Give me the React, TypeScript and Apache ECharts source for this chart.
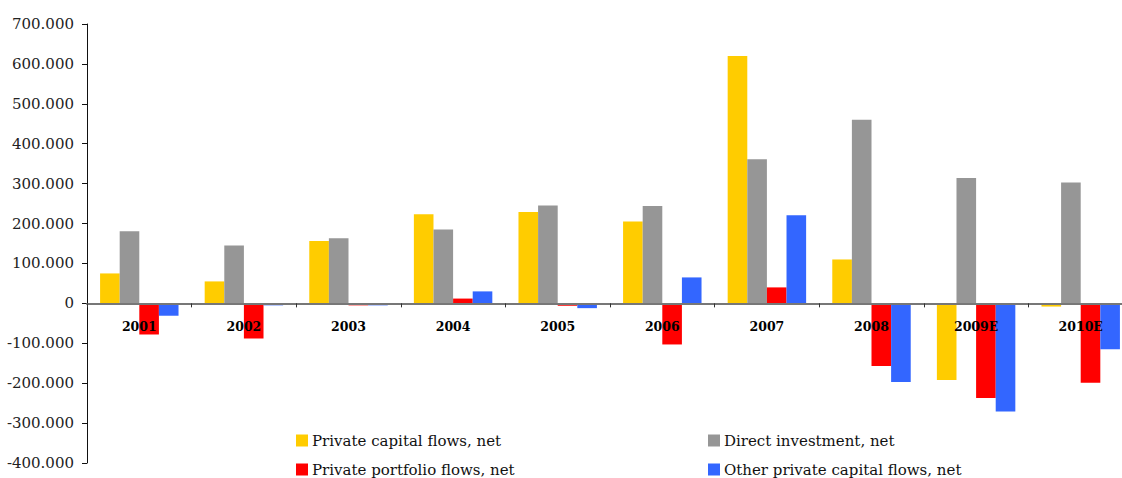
import React, { useEffect, useRef } from "react";
import * as echarts from "echarts";

const categories = ["2001", "2002", "2003", "2004", "2005", "2006", "2007", "2008", "2009E", "2010E"];
const privateCapital = [75000, 55000, 156000, 223000, 229000, 205000, 620000, 110000, -192000, -8000];
const directInvestment = [181000, 145000, 163000, 185000, 245000, 244000, 361000, 460000, 314000, 303000];
const portfolioFlows = [-78000, -88000, -5000, 12000, -6000, -103000, 40000, -157000, -237000, -199000];
const otherFlows = [-31000, -5000, -5000, 30000, -12000, 65000, 221000, -197000, -271000, -115000];

const seriesNames = [
  "Private capital flows, net",
  "Direct investment, net",
  "Private portfolio flows, net",
  "Other private capital flows, net",
];
const colors = ["#FFCC00", "#969696", "#FF0000", "#3366FF"];

function fmt(v: number): string {
  if (v === 0) return "0";
  const neg = v < 0;
  const a = Math.abs(v);
  const s = Math.round(a).toString().replace(/\B(?=(\d{3})+(?!\d))/g, ".");
  return (neg ? "-" : "") + s;
}

export default function App() {
  const ref = useRef<HTMLDivElement>(null);
  useEffect(() => {
    if (!ref.current) return;
    const chart = echarts.init(ref.current, null, { renderer: "svg" });
    const font = "DejaVu Serif";
    const data = [privateCapital, directInvestment, portfolioFlows, otherFlows];
    const legendPos = [
      { left: 291, top: 428 },
      { left: 703, top: 428 },
      { left: 291, top: 457 },
      { left: 703, top: 457 },
    ];
    chart.setOption({
      animation: false,
      backgroundColor: "#ffffff",
      grid: {
        left: 87,
        top: 24,
        width: 1046,
        height: 439,
        containLabel: false,
        outerBoundsMode: "none",
      },
      legend: seriesNames.map((n, i) => ({
        data: [n],
        left: legendPos[i].left,
        top: legendPos[i].top,
        itemWidth: 12,
        itemHeight: 12,
        icon: "rect",
        itemGap: 4,
        textStyle: { fontFamily: font, fontSize: 15, color: "#111", padding: [0, 0, 0, -1] },
      })),
      xAxis: {
        type: "category",
        data: categories,
        z: 10,
        axisLine: { onZero: true, lineStyle: { color: "#777", width: 2 } },
        axisTick: { show: true, length: 4, inside: false, lineStyle: { color: "#333", width: 1 } },
        axisLabel: {
          margin: -143,
          fontFamily: font,
          fontSize: 12.5,
          fontWeight: "bold",
          color: "#000",
          interval: 0,
          hideOverlap: false,
        },
        splitLine: { show: false },
      },
      yAxis: {
        type: "value",
        min: -400000,
        max: 700000,
        interval: 100000,
        axisLine: { show: true, lineStyle: { color: "#111", width: 1 } },
        axisTick: { show: true, length: 5, lineStyle: { color: "#111" } },
        axisLabel: {
          margin: 13,
          fontFamily: font,
          fontSize: 15,
          color: "#222",
          formatter: (v: number) => fmt(v),
        },
        splitLine: { show: false },
      },
      series: seriesNames.map((n, i) => ({
        name: n,
        type: "bar",
        data: data[i],
        barGap: "0%",
        barCategoryGap: "25%",
        itemStyle: { color: colors[i] },
      })),
    });
    return () => chart.dispose();
  }, []);
  return (
    <div
      ref={ref}
      style={{ position: "fixed", left: 0, top: 0, width: 1122, height: 478 }}
    />
  );
}
